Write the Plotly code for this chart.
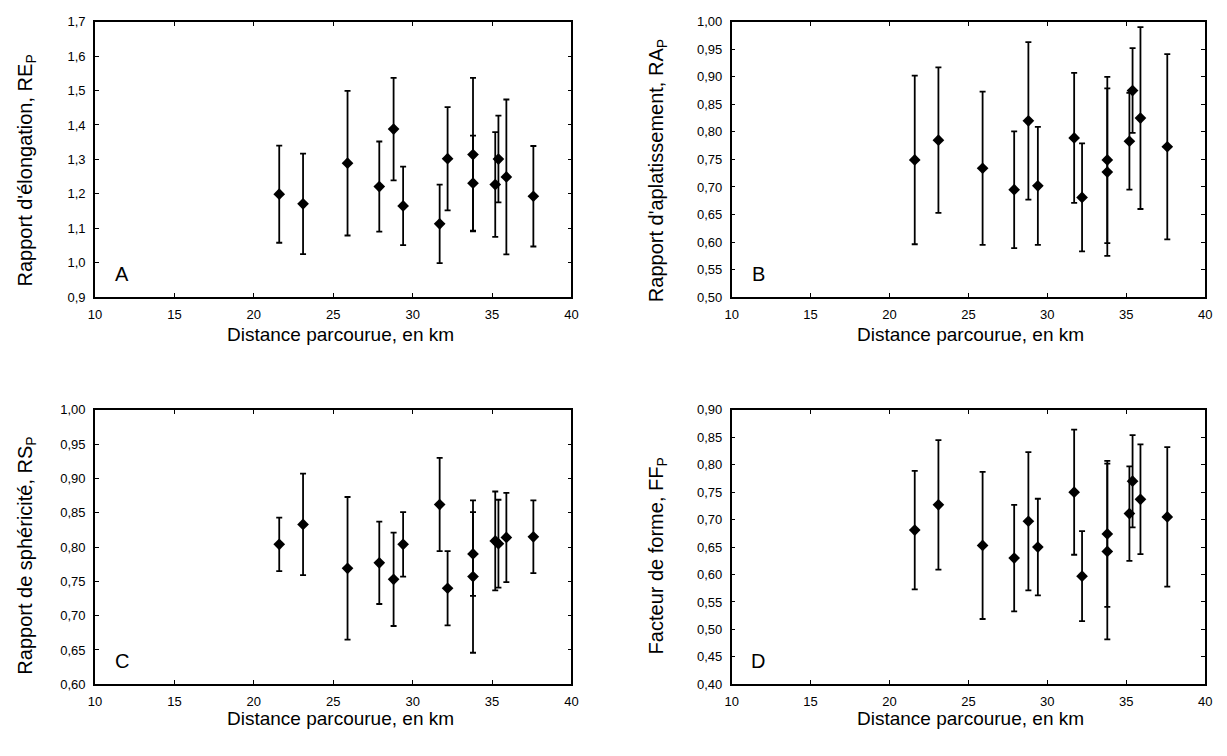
import plotly.graph_objects as go

# Distance parcourue (km)
distance = [21.6, 23.1, 25.9, 27.9, 28.8, 29.4, 31.7, 32.2, 33.8, 33.8, 35.2, 35.4, 35.9, 37.6]

# A: Rapport d'élongation
re_mean = [1.199, 1.171, 1.289, 1.221, 1.388, 1.165, 1.113, 1.302, 1.314, 1.231, 1.227, 1.301, 1.249, 1.193]
re_err = [0.141, 0.146, 0.210, 0.131, 0.149, 0.114, 0.114, 0.150, 0.223, 0.138, 0.152, 0.126, 0.225, 0.146]

# B: Rapport d'aplatissement
ra_mean = [0.749, 0.785, 0.734, 0.695, 0.820, 0.702, 0.789, 0.681, 0.749, 0.727, 0.783, 0.875, 0.825, 0.773]
ra_err = [0.153, 0.132, 0.139, 0.106, 0.143, 0.107, 0.118, 0.098, 0.151, 0.152, 0.088, 0.077, 0.165, 0.168]

# C: Rapport de sphéricité
rs_mean = [0.804, 0.833, 0.769, 0.777, 0.753, 0.804, 0.862, 0.740, 0.790, 0.757, 0.809, 0.805, 0.814, 0.815]
rs_err = [0.039, 0.074, 0.104, 0.060, 0.068, 0.047, 0.068, 0.054, 0.061, 0.111, 0.072, 0.064, 0.065, 0.053]

# D: Facteur de forme
ff_mean = [0.681, 0.727, 0.653, 0.630, 0.697, 0.650, 0.750, 0.597, 0.674, 0.642, 0.711, 0.770, 0.737, 0.705]
ff_err = [0.108, 0.118, 0.134, 0.097, 0.126, 0.088, 0.114, 0.082, 0.133, 0.160, 0.086, 0.084, 0.100, 0.127]

x_title = "Distance parcourue, en km"
panel_letters = ["A", "B", "C", "D"]
y_titles = ["Rapport d'élongation, RE<sub>P</sub>", "Rapport d'aplatissement, RA<sub>P</sub>",
            "Rapport de sphéricité, RS<sub>P</sub>", "Facteur de forme, FF<sub>P</sub>"]
y_ranges = [[0.9, 1.7], [0.5, 1.0], [0.6, 1.0], [0.4, 0.9]]
y_dticks = [0.1, 0.05, 0.05, 0.05]
y_formats = [".1f", ".2f", ".2f", ".2f"]
means = [re_mean, ra_mean, rs_mean, ff_mean]
errs = [re_err, ra_err, rs_err, ff_err]

W, H = 1227, 756
# plot-area pixel boxes (left, right) and (top, bottom)
xpix = [(89, 571), (733, 1212)]
ypix = [(15, 296), (411, 691)]
ytitle_x = [20, 658]
ytitle_y = [167, 560]
xtitle_x = [337, 975]
xtitle_y = [334, 726]

font_family = "Liberation Sans, Arial, sans-serif"
fig = go.Figure()
layout = dict(
    width=W, height=H,
    paper_bgcolor="white", plot_bgcolor="white",
    margin=dict(l=0, r=0, t=0, b=0),
    showlegend=False,
    separators=", ",
    font=dict(family=font_family, color="black"),
)
annotations = []
for i in range(4):
    n = i + 1
    col, row = i % 2, i // 2
    xa = "x" if n == 1 else f"x{n}"
    ya = "y" if n == 1 else f"y{n}"
    xd = [xpix[col][0] / W, xpix[col][1] / W]
    yd = [1 - ypix[row][1] / H, 1 - ypix[row][0] / H]
    fig.add_trace(go.Scatter(
        x=distance, y=means[i], mode="markers",
        marker=dict(symbol="diamond", size=9, color="black"),
        error_y=dict(type="data", array=errs[i], visible=True, color="black", thickness=1.8, width=3),
        xaxis=xa, yaxis=ya, hoverinfo="x+y",
    ))
    axis_common = dict(
        showline=True, linecolor="black", linewidth=1.6, mirror="ticks",
        ticks="inside", ticklen=4, tickwidth=1.2, tickcolor="black",
        showgrid=False, zeroline=False,
        tickfont=dict(size=13, family=font_family, color="black"),
    )
    layout["xaxis" if n == 1 else f"xaxis{n}"] = dict(
        axis_common, domain=xd, range=[10, 40], dtick=5, tick0=10, anchor=ya,
        ticklabelstandoff=4,
    )
    layout["yaxis" if n == 1 else f"yaxis{n}"] = dict(
        axis_common, domain=yd, range=y_ranges[i], dtick=y_dticks[i], tick0=y_ranges[i][0],
        tickformat=y_formats[i], anchor=xa, ticklabelstandoff=5,
    )
    annotations.append(dict(
        text=panel_letters[i], xref=f"{xa} domain", yref=f"{ya} domain",
        x=0.056, y=0.085, xanchor="center", yanchor="middle", showarrow=False,
        font=dict(size=20, family=font_family, color="black"),
    ))
    annotations.append(dict(
        text=y_titles[i], xref="paper", yref="paper",
        x=ytitle_x[col] / W, y=1 - ytitle_y[row] / H, xanchor="center", yanchor="middle",
        textangle=-90, showarrow=False,
        font=dict(size=20, family=font_family, color="black"),
    ))
    annotations.append(dict(
        text=x_title, xref="paper", yref="paper",
        x=xtitle_x[col] / W, y=1 - xtitle_y[row] / H, xanchor="center", yanchor="middle",
        showarrow=False,
        font=dict(size=19, family=font_family, color="black"),
    ))
layout["annotations"] = annotations
fig.update_layout(**layout)
fig.write_html(
    "out.html",
    config={"displayModeBar": False},
    post_script="document.body.style.margin='0';document.body.style.overflow='hidden';",
)
